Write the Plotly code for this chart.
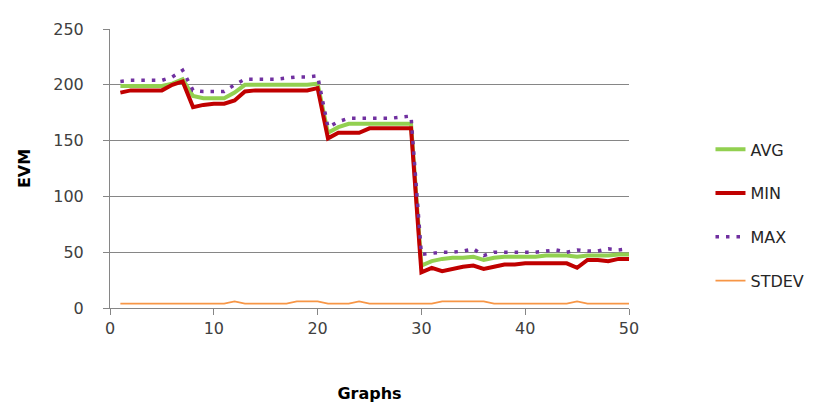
import plotly.graph_objects as go

graphs = list(range(1, 51))
avg = [199, 199, 199, 199, 199, 201, 205, 190, 188, 188,
       188, 193, 200, 200, 200, 200, 200, 200, 200, 201,
       157, 162, 165, 165, 165, 165, 165, 165, 165, 38,
       42, 44, 45, 45, 46, 43, 45, 46, 46, 46,
       46, 47, 47, 47, 46, 47, 47, 47, 48, 48]
mn = [193, 195, 195, 195, 195, 200, 203, 180, 182, 183,
      183, 186, 194, 195, 195, 195, 195, 195, 195, 197,
      152, 157, 157, 157, 161, 161, 161, 161, 161, 32,
      36, 33, 35, 37, 38, 35, 37, 39, 39, 40,
      40, 40, 40, 40, 36, 43, 43, 42, 44, 44]
mx = [203, 204, 204, 204, 204, 207, 213, 195, 194, 194,
      194, 200, 205, 205, 205, 205, 206, 207, 207, 208,
      162, 167, 170, 170, 170, 170, 170, 171, 172, 48,
      49, 50, 50, 51, 53, 47, 50, 50, 50, 50,
      50, 51, 52, 50, 52, 51, 51, 53, 52, 53]
stdev = [4, 4, 4, 4, 4, 4, 4, 4, 4, 4,
         4, 6, 4, 4, 4, 4, 4, 6, 6, 6,
         4, 4, 4, 6, 4, 4, 4, 4, 4, 4,
         4, 6, 6, 6, 6, 6, 4, 4, 4, 4,
         4, 4, 4, 4, 6, 4, 4, 4, 4, 4]

font_family = "'DejaVu Sans', sans-serif"

fig = go.Figure()
fig.add_trace(go.Scatter(x=graphs, y=avg, name="AVG", mode="lines",
                         line=dict(color="#92D050", width=4), legendgroup="a"))
fig.add_trace(go.Scatter(x=graphs, y=mn, name="MIN", mode="lines",
                         line=dict(color="#C00000", width=4), legendgroup="b"))
fig.add_trace(go.Scatter(x=graphs, y=mx, name="MAX", mode="lines",
                         line=dict(color="#7030A0", width=3.5, dash="3.5px,7px"), legendgroup="c"))
fig.add_trace(go.Scatter(x=graphs, y=stdev, name="STDEV", mode="lines",
                         line=dict(color="#F79646", width=1.8), legendgroup="d"))

fig.update_layout(
    width=813, height=410,
    margin=dict(l=102, r=191, t=12, b=110),
    paper_bgcolor="white", plot_bgcolor="white",
    font=dict(family=font_family, size=16, color="#404040"),
    legend=dict(x=1.157, y=0.332, xanchor="left", yanchor="middle",
                traceorder="grouped", tracegroupgap=20,
                font=dict(size=16, color="#262626"), bgcolor="rgba(0,0,0,0)"),
    xaxis=dict(range=[0, 50], tickvals=[0, 10, 20, 30, 40, 50],
               showgrid=False, showline=True, linecolor="#868686", linewidth=1,
               ticks="outside", ticklen=6, tickcolor="#868686",
               zeroline=False,
               title=dict(text="<b>Graphs</b>", font=dict(size=16, color="#000000"), standoff=50)),
    yaxis=dict(range=[0, 250], tickvals=[0, 50, 100, 150, 200, 250],
               showgrid=True, gridcolor="#868686", gridwidth=1,
               showline=True, linecolor="#868686", linewidth=1,
               ticks="outside", ticklen=6, tickcolor="#868686",
               ticklabelstandoff=16, zeroline=False,
               title=dict(text="<b>EVM</b>", font=dict(size=16, color="#000000"), standoff=18)),
)

fig.write_html("out.html")
